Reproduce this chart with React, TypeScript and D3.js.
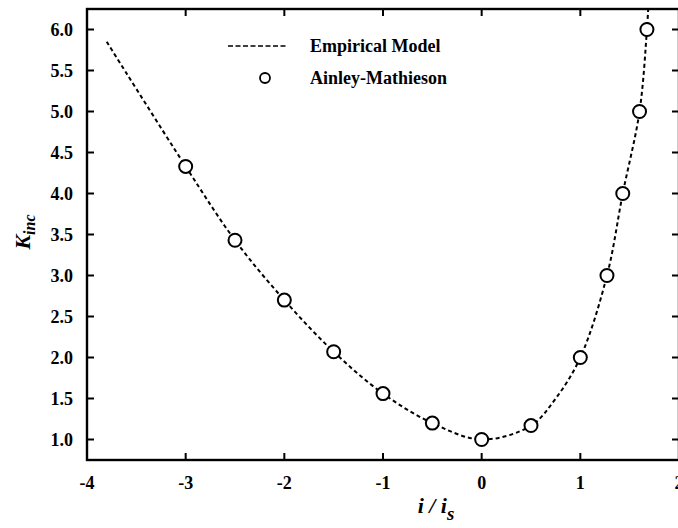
import React from 'react'
import * as d3 from 'd3'

// Ainley-Mathieson points (i/is, Kinc)
const amX = [-3, -2.5, -2, -1.5, -1, -0.5, 0, 0.5, 1, 1.27, 1.43, 1.6, 1.675]
const amY = [4.33, 3.43, 2.7, 2.07, 1.56, 1.2, 1.0, 1.17, 2.0, 3.0, 4.0, 5.0, 6.0]

// empirical model curve
const modelX = [-3.8, -3, -2.5, -2, -1.5, -1, -0.5, 0, 0.5, 0.75, 1, 1.27, 1.43, 1.6, 1.675, 1.69]
const modelY = [5.85, 4.33, 3.43, 2.7, 2.07, 1.56, 1.2, 1.0, 1.17, 1.5, 2.0, 3.0, 4.0, 5.0, 6.0, 6.3]

const xTicks = [-4, -3, -2, -1, 0, 1, 2]
const yTicks = [1.0, 1.5, 2.0, 2.5, 3.0, 3.5, 4.0, 4.5, 5.0, 5.5, 6.0]

const W = 678
const H = 528
const font = '"Liberation Serif", "Times New Roman", serif'

export default function App() {
  const left = 87
  const right = 679
  const top = 9
  const bottom = 460

  const x = d3.scaleLinear().domain([-4, 2]).range([left, right])
  const y = d3.scaleLinear().domain([0.75, 6.25]).range([bottom, top])

  const line = d3.line<number>()
    .x((_, i) => x(modelX[i]))
    .y((d) => y(d))
    .curve(d3.curveCatmullRom.alpha(0.5))

  const tick = 7

  return (
    <svg
      width={W}
      height={H}
      style={{ position: 'absolute', left: 0, top: 0, background: '#fff' }}
      fontFamily={font}
    >
      <defs>
        <clipPath id="plot">
          <rect x={left} y={top} width={right - left} height={bottom - top} />
        </clipPath>
      </defs>

      {/* frame */}
      <rect x={left} y={top} width={right - left} height={bottom - top} fill="none" stroke="#000" strokeWidth={2.4} />

      {xTicks.map((t) => (
        <g key={'x' + t}>
          <line x1={x(t)} x2={x(t)} y1={bottom} y2={bottom - tick} stroke="#000" strokeWidth={2} />
          <line x1={x(t)} x2={x(t)} y1={top} y2={top + tick} stroke="#000" strokeWidth={2} />
          <text x={x(t)} y={489} textAnchor="middle" fontSize={18} fontWeight="bold">{t}</text>
        </g>
      ))}

      {yTicks.map((t) => (
        <g key={'y' + t}>
          <line x1={left} x2={left + tick} y1={y(t)} y2={y(t)} stroke="#000" strokeWidth={2} />
          <line x1={right} x2={right - tick} y1={y(t)} y2={y(t)} stroke="#000" strokeWidth={2} />
          <text x={73} y={y(t) + 6} textAnchor="end" fontSize={18} fontWeight="bold">{t.toFixed(1)}</text>
        </g>
      ))}

      <g clipPath="url(#plot)">
        <path
          d={line(modelY) || ''}
          fill="none"
          stroke="#000"
          strokeWidth={2}
          strokeDasharray="4,3"
        />
      </g>

      {amX.map((v, i) => (
        <circle key={i} cx={x(v)} cy={y(amY[i])} r={6.5} fill="#fff" stroke="#000" strokeWidth={2} />
      ))}

      {/* legend */}
      <line x1={228} x2={287} y1={46} y2={46} stroke="#000" strokeWidth={1.5} strokeDasharray="5,2.5" />
      <text x={310} y={52} fontSize={18} fontWeight="bold">Empirical Model</text>
      <circle cx={265} cy={78} r={5} fill="#fff" stroke="#000" strokeWidth={1.8} />
      <text x={310} y={84} fontSize={18} fontWeight="bold">Ainley-Mathieson</text>

      {/* axis titles */}
      <text
        transform="translate(30,232) rotate(-90)"
        textAnchor="middle"
        fontSize={22}
        fontWeight="bold"
        fontStyle="italic"
      >
        K<tspan fontSize={16} dy={5}>inc</tspan>
      </text>
      <text x={436} y={513} textAnchor="middle" fontSize={22} fontWeight="bold" fontStyle="italic">
        i / i<tspan fontSize={19} dy={7}>s</tspan>
      </text>
    </svg>
  )
}
